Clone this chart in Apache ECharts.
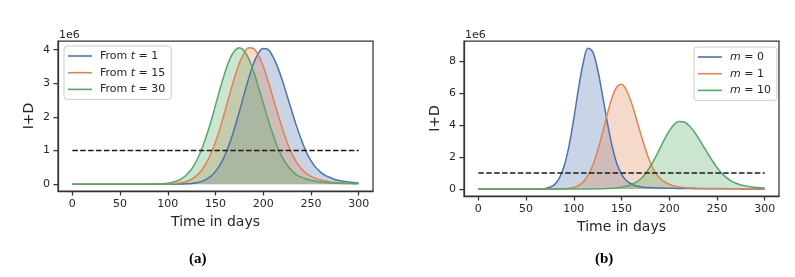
<!DOCTYPE html>
<html><head><meta charset="utf-8">
<script src="https://cdn.jsdelivr.net/npm/echarts@6/dist/echarts.min.js"></script>
<style>html,body{margin:0;padding:0;background:#fff}#c{width:795px;height:277px}</style>
</head><body><div id="c"></div>
<script>
const days = [0,5,10,15,20,25,30,35,40,45,50,55,60,65,70,75,80,85,90,95,100,105,110,115,120,125,130,135,140,145,150,155,160,165,170,175,180,185,190,195,200,205,210,215,220,225,230,235,240,245,250,255,260,265,270,275,280,285,290,295,300];
// panel (a), values in millions
const fromT1 = [0,0,0,0,0,0,0,0,0,0,0,0,0,0,0,0,0,0,0,0,0.001,0.001,0.002,0.005,0.011,0.021,0.042,0.077,0.14,0.23,0.38,0.59,0.87,1.23,1.67,2.16,2.68,3.17,3.60,3.90,4.04,4.01,3.80,3.49,3.09,2.63,2.17,1.72,1.32,0.96,0.70,0.50,0.36,0.26,0.20,0.14,0.107,0.081,0.062,0.049,0.038];
const fromT15 = [0,0,0,0,0,0,0,0,0,0,0,0,0,0,0,0,0,0,0.001,0.003,0.006,0.013,0.026,0.048,0.087,0.152,0.25,0.40,0.61,0.90,1.26,1.69,2.18,2.69,3.18,3.60,3.90,4.06,4.03,3.83,3.51,3.08,2.60,2.12,1.66,1.25,0.91,0.65,0.46,0.32,0.23,0.17,0.122,0.094,0.068,0.054,0.041,0.034,0.027,0.023,0.020];
const fromT30 = [0,0,0,0,0,0,0,0,0,0,0,0,0,0,0,0,0.001,0.003,0.007,0.015,0.029,0.055,0.100,0.173,0.29,0.45,0.69,1.00,1.39,1.84,2.35,2.86,3.33,3.72,3.97,4.06,3.97,3.72,3.35,2.89,2.41,1.93,1.50,1.10,0.80,0.57,0.40,0.28,0.21,0.155,0.112,0.085,0.063,0.049,0.038,0.031,0.025,0.022,0.019,0.015,0.012];
// panel (b), values in millions
const m0 = [0,0,0,0,0,0,0,0,0,0,0,0.001,0.003,0.010,0.035,0.107,0.29,0.70,1.46,2.71,4.41,6.31,7.94,8.83,8.59,7.50,5.93,4.23,2.74,1.61,0.93,0.53,0.33,0.20,0.14,0.10,0.085,0.072,0.062,0.054,0.047,0.041,0.036,0.031,0.027,0.024,0.021,0.018,0.016,0.014,0.012,0.011,0.010,0.009,0.008,0.007,0.006,0.005,0.005,0.004,0.004];
const m1 = [0,0,0,0,0,0,0,0,0,0,0,0,0,0,0,0.001,0.002,0.005,0.015,0.040,0.098,0.22,0.46,0.87,1.51,2.40,3.50,4.67,5.71,6.40,6.57,6.21,5.49,4.52,3.49,2.53,1.68,1.09,0.69,0.44,0.30,0.19,0.133,0.093,0.068,0.055,0.047,0.041,0.036,0.032,0.028,0.025,0.022,0.019,0.017,0.015,0.013,0.012,0.010,0.009,0.008];
const m10 = [0,0,0,0,0,0,0,0,0,0,0,0,0,0,0,0,0,0,0,0,0,0.001,0.002,0.004,0.006,0.010,0.016,0.025,0.04,0.065,0.105,0.17,0.27,0.42,0.63,0.96,1.40,1.93,2.52,3.11,3.64,4.04,4.24,4.22,4.02,3.69,3.25,2.76,2.26,1.79,1.35,0.98,0.71,0.50,0.36,0.255,0.195,0.136,0.105,0.077,0.060];
const threshold = 1;
const thresholdDays = [0, 300];
const xTicks = [0,50,100,150,200,250,300];
const yTicksA = [0,1,2,3,4];
const yTicksB = [0,2,4,6,8];
const namesA = ['From t = 1','From t = 15','From t = 30'];
const namesB = ['m = 0','m = 1','m = 10'];
const colors = ['#4c72b0','#dd8452','#55a868'];

const FONT = 'DejaVu Sans';
const TXT = '#262626';
const chart = echarts.init(document.getElementById('c'));
const pts = arr => days.map((d,i)=>[d, arr[i]]);

function xAxis(gi){
  return {type:'value', gridIndex:gi, min:-15, max:315, position:'bottom',
    axisLine:{show:true, onZero:false, lineStyle:{color:'#333', width:1.25}},
    axisTick:{show:true, inside:false, length:4.5, lineStyle:{color:'#333',width:1.25}, customValues:xTicks},
    axisLabel:{show:true, color:TXT, fontFamily:FONT, fontSize:11, margin:8, customValues:xTicks},
    splitLine:{show:false},
    name:'Time in days', nameLocation:'middle', nameGap:24,
    nameTextStyle:{color:TXT, fontFamily:FONT, fontSize:14}};
}
function yAxis(gi, mn, mx, ticks, gap){
  return {type:'value', gridIndex:gi, min:mn, max:mx, position:'left',
    axisLine:{show:true, onZero:false, lineStyle:{color:'#333', width:1.25}},
    axisTick:{show:true, inside:false, length:4.5, lineStyle:{color:'#333',width:1.25}, customValues:ticks},
    axisLabel:{show:true, color:TXT, fontFamily:FONT, fontSize:11, margin:8, customValues:ticks},
    splitLine:{show:false},
    name:'I+D', nameLocation:'middle', nameGap:gap, nameRotate:90,
    nameTextStyle:{color:TXT, fontFamily:FONT, fontSize:14}};
}
function curve(name, arr, ci, gi){
  return {name, type:'line', xAxisIndex:gi, yAxisIndex:gi, data:pts(arr),
    symbol:'none', showSymbol:false, smooth:0.4, color:colors[ci],
    lineStyle:{width:1.5, color:colors[ci]},
    areaStyle:{color:colors[ci], opacity:0.3}, z:2};
}
function dashed(gi){
  return {type:'line', xAxisIndex:gi, yAxisIndex:gi, symbol:'none', silent:true,
    data:thresholdDays.map(d=>[d, threshold]),
    lineStyle:{color:'#1a1a1a', width:1.6, type:[5.5,2.4]}, z:5};
}
function legend(names, left, top){
  return {data:names.map(n=>({name:n, icon:'rect'})), orient:'vertical', left, top,
    itemWidth:24, itemHeight:1.6, itemGap:2.7,
    padding:[3,6,3,4], borderColor:'#cccccc', borderWidth:1, borderRadius:3,
    backgroundColor:'rgba(255,255,255,0.8)',
    formatter: n => { const k = n.indexOf(' ='); const head = n.slice(0,k);
      const sp = head.lastIndexOf(' ');
      const pre = sp>=0 ? head.slice(0,sp+1) : '';
      const v = sp>=0 ? head.slice(sp+1) : head;
      return '{s|}' + (pre?'{n|'+pre+'}':'') + '{i|'+v+'}{n|'+n.slice(k)+'}'; },
    textStyle:{color:TXT, fontFamily:FONT, fontSize:11, lineHeight:14,
      rich:{s:{width:3}, n:{fontFamily:FONT,fontSize:11,color:TXT}, i:{fontFamily:FONT,fontSize:11,color:TXT,fontStyle:'italic'}}}};
}

chart.setOption({
  animation:false,
  grid:[
    {left:58, top:41, width:315, height:150, show:true, borderColor:'#333', borderWidth:1.25, outerBoundsMode:'none', containLabel:false},
    {left:464, top:41, width:315, height:155, show:true, borderColor:'#333', borderWidth:1.25, outerBoundsMode:'none', containLabel:false}
  ],
  xAxis:[xAxis(0), xAxis(1)],
  yAxis:[yAxis(0,-0.203,4.26,yTicksA,22), yAxis(1,-0.44,9.29,yTicksB,22)],
  legend:[legend(namesA,64,46), legend(namesB,694,47)],
  series:[
    curve(namesA[0], fromT1, 0, 0), curve(namesA[1], fromT15, 1, 0), curve(namesA[2], fromT30, 2, 0), dashed(0),
    curve(namesB[0], m0, 0, 1), curve(namesB[1], m1, 1, 1), curve(namesB[2], m10, 2, 1), dashed(1)
  ],
  graphic:[
    {type:'text', left:59, top:30, style:{text:'1e6', fill:TXT, font:'11px "DejaVu Sans"'}},
    {type:'text', left:465, top:30, style:{text:'1e6', fill:TXT, font:'11px "DejaVu Sans"'}},
    {type:'text', left:189, top:252, style:{text:'(a)', fill:'#000', font:'bold 15px "Liberation Serif"'}},
    {type:'text', left:595, top:252, style:{text:'(b)', fill:'#000', font:'bold 15px "Liberation Serif"'}}
  ]
});
</script></body></html>
